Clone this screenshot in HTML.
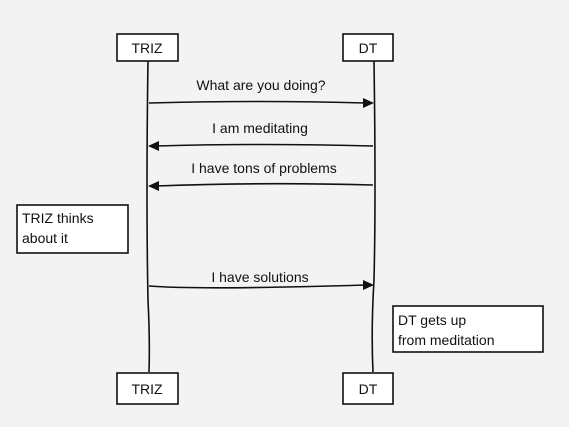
<!DOCTYPE html>
<html><head><meta charset="utf-8"><style>
html,body{margin:0;padding:0;}
body{width:569px;height:422px;background:#f3f3f3;overflow:hidden;}
svg text{font-family:"Liberation Sans",sans-serif;font-size:14px;fill:#111;}
</style></head><body>
<svg width="569" height="422" viewBox="0 0 569 422">
<g stroke="#111" stroke-width="1.6" fill="none">
<path d="M148 60 Q146 200 148 300 Q150 340 149 372"/>
<path d="M374 60 Q376 200 374 280 Q371 330 373 372"/>
<rect x="117" y="34" width="61" height="27" fill="#fff"/>
<rect x="343" y="34" width="50" height="27" fill="#fff"/>
<rect x="117" y="373" width="61" height="31" fill="#fff"/>
<rect x="343" y="373" width="50" height="31" fill="#fff"/>
<rect x="17" y="205" width="111" height="48" fill="#fff"/>
<rect x="393" y="306" width="150" height="46" fill="#fff"/>
<path d="M149 103 Q260 100 366 103"/>
<path d="M373 146 Q260 143 156 146"/>
<path d="M373 185 Q260 182 156 186"/>
<path d="M149 286 Q200 290 366 285"/>
</g>
<g fill="#111">
<polygon points="374,103 363,98 363,108"/>
<polygon points="148,146 159,141 159,151"/>
<polygon points="148,186 159,181 159,191"/>
<polygon points="374,285 363,280 363,290"/>
</g>
<text x="147" y="53" text-anchor="middle">TRIZ</text>
<text x="368" y="53" text-anchor="middle">DT</text>
<text x="147" y="394" text-anchor="middle">TRIZ</text>
<text x="368" y="394" text-anchor="middle">DT</text>
<text x="261" y="90" text-anchor="middle">What are you doing?</text>
<text x="260" y="133" text-anchor="middle">I am meditating</text>
<text x="264" y="173" text-anchor="middle">I have tons of problems</text>
<text x="260" y="282" text-anchor="middle">I have solutions</text>
<text x="22" y="223">TRIZ thinks</text>
<text x="22" y="243">about it</text>
<text x="398" y="325">DT gets up</text>
<text x="398" y="345">from meditation</text>
</svg>
</body></html>
